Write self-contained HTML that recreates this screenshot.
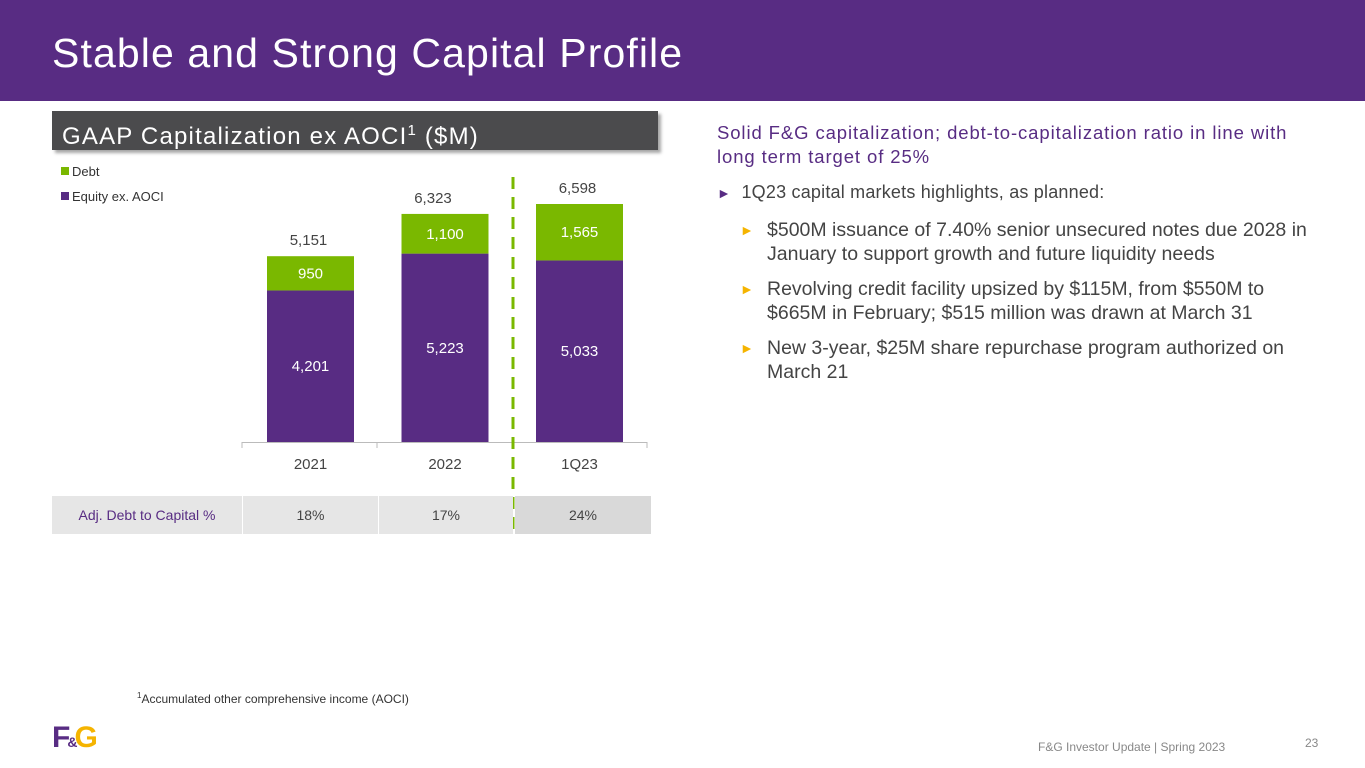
<!DOCTYPE html>
<html><head><meta charset="utf-8"><style>
*{margin:0;padding:0;box-sizing:border-box}
body{width:1365px;height:768px;position:relative;background:#fff;font-family:"Liberation Sans",sans-serif;overflow:hidden}
.abs{position:absolute}
</style></head><body>
<div class="abs" style="left:0;top:0;width:1365px;height:101px;background:#582c83"></div>
<div class="abs" style="left:52px;top:30px;font-size:41px;color:#fff;letter-spacing:1.1px">Stable and Strong Capital Profile</div>
<div class="abs" style="left:52px;top:111px;width:606px;height:39px;background:#4b4b4d;box-shadow:3px 3px 3px rgba(0,0,0,0.35);color:#fff;font-size:24px;line-height:40px;padding-left:10px;letter-spacing:1.2px">GAAP Capitalization ex AOCI<sup style="font-size:15px">1</sup> ($M)</div>
<svg class="abs" style="left:0;top:0" width="1365" height="768" id="chart"></svg>
<div class="abs" style="left:52px;top:496px;height:38px;font-size:14px;line-height:38px;text-align:center;color:#444">
<div class="abs" style="left:0;width:190px;background:#e6e6e6;color:#582c83">Adj. Debt to Capital %</div>
<div class="abs" style="left:191px;width:135px;background:#e6e6e6">18%</div>
<div class="abs" style="left:327px;width:134px;background:#e6e6e6">17%</div>
<div class="abs" style="left:463px;width:136px;background:#d9d9d9">24%</div>
</div>
<div class="abs" style="left:717px;top:121px;width:610px;font-size:18.5px;line-height:24px;color:#582c83;letter-spacing:0.9px">Solid F&amp;G capitalization; debt-to-capitalization ratio in line with long term target of 25%</div>
<div class="abs" style="left:717px;top:180px;width:610px;font-size:18px;line-height:24px;color:#444;letter-spacing:0.2px"><span style="color:#582c83;font-size:14px">►</span>&nbsp; 1Q23 capital markets highlights, as planned:</div>
<div class="abs" style="left:740px;top:218px;width:585px;font-size:19.5px;line-height:24px;color:#444">
<div style="position:relative;padding-left:27px;margin-bottom:11px"><span style="position:absolute;left:0;color:#f5b400;font-size:14px">►</span>$500M issuance of 7.40% senior unsecured notes due 2028 in January to support growth and future liquidity needs</div>
<div style="position:relative;padding-left:27px;margin-bottom:11px"><span style="position:absolute;left:0;color:#f5b400;font-size:14px">►</span>Revolving credit facility upsized by $115M, from $550M to $665M in February; $515 million was drawn at March 31</div>
<div style="position:relative;padding-left:27px"><span style="position:absolute;left:0;color:#f5b400;font-size:14px">►</span>New 3-year, $25M share repurchase program authorized on March 21</div>
</div>
<div class="abs" style="left:137px;top:691px;font-size:12px;color:#333"><sup style="font-size:8px">1</sup>Accumulated other comprehensive income (AOCI)</div>
<div class="abs" style="left:52px;top:722px;font-size:30px;font-weight:bold;letter-spacing:-3px;line-height:32px"><span style="color:#582c83">F</span><span style="color:#582c83;font-size:14px">&amp;</span><span style="color:#f5b400">G</span></div>
<div class="abs" style="left:1038px;top:740px;font-size:12px;color:#888">F&amp;G Investor Update | Spring 2023</div>
<div class="abs" style="left:1305px;top:736px;font-size:12px;color:#888">23</div>
<script>
const categories=["2021","2022","1Q23"];
const equity=[4201,5223,5033];
const debt=[950,1100,1565];
const totals=[5151,6323,6598];
const svg=document.getElementById('chart');
const NS='http://www.w3.org/2000/svg';
const base=442, scale=238/6598;
const y=v=>base-v*scale;
const barX=i=>267+i*134.5, bw=87;
function mk(t,a,txt){const e=document.createElementNS(NS,t);for(const k in a)e.setAttribute(k,a[k]);if(txt!=null)e.textContent=txt;svg.appendChild(e);return e;}
let e=mk('rect',{x:61,y:167,width:8,height:8,fill:'#7ab800'});

e=mk('text',{x:72,y:176,'font-size':13,fill:'#333','font-family':'Liberation Sans'},'Debt');

e=mk('rect',{x:61,y:192,width:8,height:8,fill:'#582c83'});

e=mk('text',{x:72,y:201,'font-size':13,fill:'#333','font-family':'Liberation Sans'},'Equity ex. AOCI');

e=mk('line',{x1:242,y1:base+0.5,x2:647,y2:base+0.5,stroke:'#bbb'});

for(let i=0;i<=3;i++){e=mk('line',{x1:242+i*135,y1:base,x2:242+i*135,y2:base+6,stroke:'#bbb'});
}
categories.forEach((c,i)=>{
 const x=barX(i),cx=x+bw/2;
 let r=mk('rect',{x:x,y:y(equity[i]),width:bw,height:equity[i]*scale,fill:'#582c83'});
 
 r=mk('rect',{x:x,y:y(equity[i]+debt[i]),width:bw,height:debt[i]*scale,fill:'#7ab800'});
 
 let t=mk('text',{x:cx,y:(y(equity[i])+base)/2+5,'text-anchor':'middle','font-size':15,fill:'#fff','font-family':'Liberation Sans'},equity[i].toLocaleString('en-US'));
 
 t=mk('text',{x:cx,y:(y(equity[i])+y(equity[i]+debt[i]))/2+5,'text-anchor':'middle','font-size':15,fill:'#fff','font-family':'Liberation Sans'},debt[i].toLocaleString('en-US'));
 
 t=mk('text',{x:cx-(i===1?12:2),y:y(totals[i])-11,'text-anchor':'middle','font-size':15,fill:'#444','font-family':'Liberation Sans'},totals[i].toLocaleString('en-US'));
 
 t=mk('text',{x:cx,y:469,'text-anchor':'middle','font-size':15,fill:'#444','font-family':'Liberation Sans'},c);
 
});
e=mk('line',{x1:513,y1:177,x2:513,y2:530,stroke:'#7ab800','stroke-width':3,'stroke-dasharray':'12,8'});

</script>
</body></html>
